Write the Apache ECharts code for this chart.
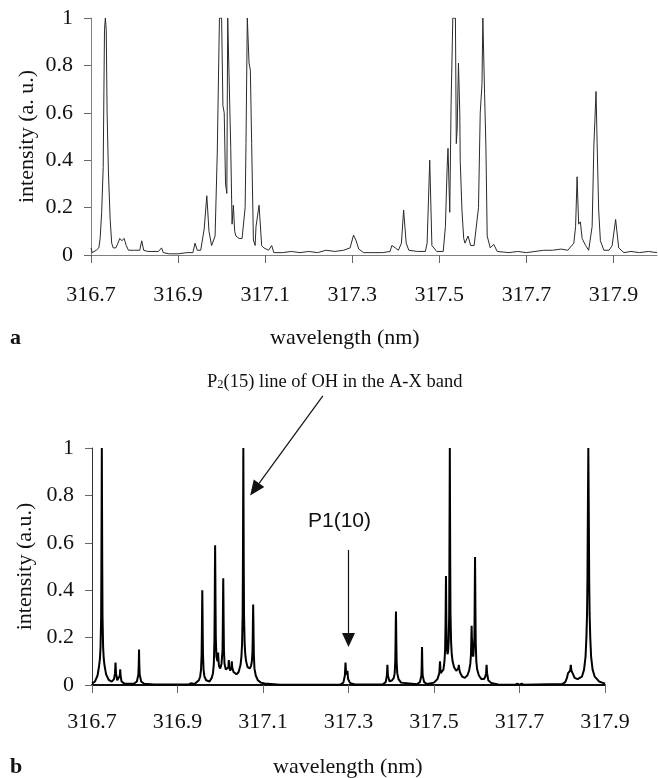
<!DOCTYPE html>
<html>
<head>
<meta charset="utf-8">
<script src="https://cdn.jsdelivr.net/npm/echarts@6/dist/echarts.min.js"></script>
<style>
  html, body { margin: 0; padding: 0; background: #fff; }
  #chart { width: 658px; height: 778px; }
</style>
</head>
<body>
<div id="chart"></div>
<script>
// wavelength axis (nm)
const wlMin = 316.7;
const wlStep = 0.2;
const wlMaxTop = 318.0;
const wlMaxBottom = 317.9;
const intensityTicks = [0, 0.2, 0.4, 0.6, 0.8, 1];

// panel a: measured spectrum [wavelength, intensity]
const topSpectrum = [
  [316.700,0.03],[316.703,0.01],[316.712,0.02],[316.718,0.03],[316.721,0.07],[316.7245,0.18],
  [316.728,0.37],[316.731,0.95],[316.733,1.0],[316.735,0.95],[316.737,0.6],[316.740,0.35],
  [316.744,0.15],[316.7475,0.05],[316.751,0.03],[316.757,0.03],[316.762,0.05],[316.766,0.07],
  [316.771,0.06],[316.776,0.07],[316.781,0.04],[316.786,0.02],[316.800,0.02],[316.812,0.02],
  [316.8165,0.06],[316.821,0.02],[316.830,0.015],[316.855,0.015],[316.862,0.03],[316.866,0.01],
  [316.880,0.005],[316.900,0.005],[316.920,0.01],[316.934,0.01],[316.939,0.05],[316.944,0.02],
  [316.952,0.02],[316.960,0.11],[316.966,0.25],[316.971,0.10],[316.977,0.04],[316.985,0.08],
  [316.990,0.43],[316.995,1.0],[317.000,1.0],[317.003,0.63],[317.006,0.6],[317.009,0.30],
  [317.012,0.26],[317.014,1.0],[317.018,1.0],[317.021,0.45],[317.024,0.13],[317.027,0.21],
  [317.030,0.10],[317.033,0.08],[317.040,0.07],[317.047,0.07],[317.054,0.2],[317.056,0.47],
  [317.059,1.0],[317.062,1.0],[317.063,0.81],[317.066,0.78],[317.069,0.47],[317.073,0.063],
  [317.077,0.04],[317.079,0.12],[317.086,0.21],[317.092,0.04],[317.097,0.03],[317.108,0.02],
  [317.115,0.04],[317.120,0.01],[317.140,0.01],[317.160,0.015],[317.180,0.01],[317.200,0.015],
  [317.220,0.01],[317.240,0.02],[317.260,0.015],[317.280,0.02],[317.295,0.03],[317.303,0.084],
  [317.309,0.06],[317.315,0.025],[317.326,0.01],[317.350,0.01],[317.370,0.01],[317.387,0.015],
  [317.391,0.04],[317.399,0.03],[317.406,0.02],[317.413,0.05],[317.418,0.19],[317.424,0.05],
  [317.430,0.02],[317.450,0.015],[317.468,0.015],[317.472,0.05],[317.478,0.40],[317.483,0.04],
  [317.494,0.015],[317.509,0.015],[317.514,0.12],[317.518,0.37],[317.520,0.45],[317.524,0.18],
  [317.527,0.63],[317.531,1.0],[317.537,1.0],[317.539,0.47],[317.541,0.53],[317.544,0.81],
  [317.547,0.6],[317.548,0.40],[317.552,0.19],[317.556,0.07],[317.559,0.05],[317.566,0.08],
  [317.572,0.04],[317.580,0.04],[317.590,0.2],[317.594,0.6],[317.598,0.72],[317.600,1.0],
  [317.603,1.0],[317.604,0.68],[317.607,0.46],[317.610,0.08],[317.617,0.03],[317.625,0.045],
  [317.633,0.015],[317.660,0.01],[317.680,0.015],[317.700,0.01],[317.720,0.015],[317.740,0.02],
  [317.760,0.02],[317.780,0.025],[317.795,0.02],[317.809,0.05],[317.813,0.12],[317.8165,0.33],
  [317.820,0.13],[317.824,0.14],[317.828,0.07],[317.836,0.04],[317.843,0.02],[317.851,0.12],
  [317.855,0.46],[317.860,0.69],[317.8625,0.47],[317.866,0.19],[317.870,0.06],[317.878,0.02],
  [317.890,0.02],[317.897,0.04],[317.905,0.15],[317.912,0.03],[317.924,0.01],[317.940,0.015],
  [317.960,0.01],[317.980,0.015],[318.000,0.01]
];

// panel b: simulated spectrum [wavelength, intensity]
const bottomSpectrum = [
  [316.700,0.006],[316.707,0.015],[316.713,0.04],[316.7165,0.08],[316.7185,0.11],[316.720,0.16],
  [316.7214,0.29],[316.722,0.5],[316.7225,0.75],[316.723,1.0],[316.7235,0.75],[316.724,0.5],
  [316.7246,0.29],[316.726,0.16],[316.7275,0.11],[316.7295,0.08],[316.733,0.045],[316.739,0.022],
  [316.746,0.014],
  [316.7515,0.025],[316.7538,0.05],[316.755,0.095],[316.7562,0.05],[316.759,0.02],[316.7635,0.025],
  [316.7652,0.04],[316.766,0.066],[316.7668,0.04],[316.769,0.015],[316.776,0.006],
  [316.798,0.005],[316.805,0.015],[316.8085,0.045],[316.8094,0.09],[316.810,0.15],[316.8106,0.09],
  [316.8115,0.045],[316.815,0.015],[316.822,0.005],
  [316.845,0.002],[316.848,0.006],[316.851,0.002],[316.926,0.002],[316.931,0.007],[316.932,0.015],
  [316.933,0.007],[316.940,0.004],
  [316.950,0.02],[316.953,0.036],[316.955,0.064],[316.9564,0.13],[316.957,0.22],[316.9575,0.32],
  [316.958,0.40],[316.9585,0.32],[316.959,0.22],[316.9596,0.13],[316.961,0.064],[316.963,0.036],
  [316.967,0.02],
  [316.975,0.015],[316.980,0.03],[316.983,0.05],[316.985,0.09],[316.9864,0.19],[316.987,0.32],
  [316.9875,0.47],[316.988,0.59],[316.9885,0.47],[316.989,0.33],[316.9896,0.2],[316.991,0.12],
  [316.9935,0.1],[316.9945,0.12],[316.995,0.137],[316.9956,0.11],[316.997,0.08],
  [317.000,0.07],[317.003,0.09],[317.0054,0.15],[317.006,0.25],[317.0065,0.36],[317.007,0.45],
  [317.0075,0.36],[317.008,0.25],[317.0086,0.15],[317.010,0.09],[317.013,0.065],
  [317.017,0.06],[317.019,0.075],[317.020,0.105],[317.021,0.075],[317.0235,0.06],[317.026,0.075],
  [317.027,0.10],[317.028,0.075],[317.031,0.055],[317.033,0.055],[317.034,0.063],[317.035,0.05],
  [317.038,0.045],[317.043,0.055],[317.0475,0.085],[317.0495,0.12],[317.051,0.17],[317.0524,0.3],
  [317.053,0.5],[317.0535,0.75],[317.054,1.0],[317.0545,0.75],[317.055,0.5],[317.0556,0.3],
  [317.057,0.18],[317.0585,0.13],[317.0605,0.1],[317.064,0.075],
  [317.069,0.07],[317.072,0.08],[317.074,0.1],[317.0754,0.14],[317.076,0.2],[317.0765,0.28],
  [317.077,0.34],[317.0775,0.28],[317.078,0.2],[317.0786,0.13],[317.080,0.07],[317.083,0.04],
  [317.088,0.02],[317.095,0.01],
  [317.104,0.006],[317.108,0.002],[317.140,0.001],
  [317.280,0.001],[317.288,0.01],[317.2915,0.04],[317.293,0.095],[317.2945,0.045],[317.296,0.04],
  [317.2975,0.06],[317.299,0.025],[317.304,0.008],[317.315,0.002],
  [317.380,0.002],[317.387,0.012],[317.3898,0.04],[317.391,0.085],[317.3922,0.04],[317.396,0.015],
  [317.402,0.02],[317.406,0.03],[317.408,0.05],[317.4094,0.1],[317.410,0.17],[317.4105,0.25],
  [317.411,0.31],[317.4115,0.25],[317.412,0.17],[317.4126,0.1],[317.414,0.05],[317.417,0.025],
  [317.423,0.01],
  [317.460,0.003],[317.467,0.012],[317.4705,0.04],[317.4712,0.08],[317.472,0.16],[317.4728,0.08],
  [317.4735,0.04],[317.477,0.012],[317.484,0.004],
  [317.500,0.01],[317.508,0.025],[317.5125,0.05],[317.514,0.10],[317.5155,0.05],[317.519,0.05],
  [317.522,0.065],[317.5245,0.1],[317.526,0.15],[317.527,0.26],[317.5275,0.36],[317.528,0.46],
  [317.5285,0.36],[317.529,0.26],[317.530,0.16],[317.5315,0.13],[317.533,0.14],[317.5345,0.19],
  [317.5355,0.3],[317.536,0.5],[317.5365,0.75],[317.537,1.0],[317.5375,0.75],[317.538,0.5],
  [317.5386,0.3],[317.540,0.18],[317.5415,0.13],[317.5435,0.1],[317.547,0.075],
  [317.552,0.06],[317.556,0.06],[317.557,0.07],[317.558,0.085],[317.559,0.07],[317.5605,0.055],
  [317.562,0.06],[317.563,0.045],[317.566,0.035],
  [317.572,0.03],[317.578,0.04],[317.582,0.06],[317.585,0.09],[317.5865,0.13],[317.5874,0.2],
  [317.588,0.25],[317.5886,0.2],[317.590,0.13],[317.592,0.12],[317.5945,0.2],[317.595,0.3],
  [317.5955,0.43],[317.596,0.54],[317.5965,0.43],[317.597,0.3],[317.5976,0.18],[317.599,0.1],
  [317.601,0.065],[317.605,0.04],[317.611,0.025],
  [317.617,0.025],[317.620,0.035],[317.6218,0.05],[317.623,0.085],[317.6242,0.05],[317.627,0.02],
  [317.634,0.008],[317.650,0.002],
  [317.690,0.001],[317.695,0.006],[317.700,0.001],[317.705,0.006],[317.710,0.001],
  [317.800,0.004],[317.807,0.012],[317.811,0.03],[317.8135,0.05],[317.8155,0.045],[317.8185,0.06],
  [317.820,0.085],[317.8215,0.06],[317.823,0.06],[317.824,0.065],[317.8255,0.045],[317.829,0.03],
  [317.836,0.025],
  [317.846,0.035],[317.851,0.065],[317.8545,0.12],[317.8565,0.2],[317.858,0.3],[317.859,0.45],
  [317.860,0.75],[317.861,1.0],[317.862,0.75],[317.863,0.45],[317.864,0.3],[317.8655,0.2],
  [317.8675,0.12],[317.871,0.065],[317.876,0.035],[317.886,0.015],[317.900,0.006]
];

// annotation arrows in panel b data units
const p2Arrow = { from: [317.24, 1.22], to: [317.07, 0.80] };
const p1Arrow = { from: [317.30, 0.57], to: [317.30, 0.16] };

const serif = '"Liberation Serif", "Times New Roman", serif';
const sans = '"Liberation Sans", Arial, sans-serif';

const fmtY = (v) => {
  if (Math.abs(v) < 1e-9) return '0';
  if (Math.abs(v - 1) < 1e-9) return '1';
  return v.toFixed(1);
};

function xAxisOpt(grid, max, lineColor, lineWidth, margin) {
  return {
    gridIndex: grid,
    type: 'value',
    min: wlMin,
    max: max,
    interval: wlStep,
    axisLine: { show: true, onZero: false, lineStyle: { color: lineColor, width: lineWidth } },
    axisTick: { show: true, length: 8, lineStyle: { color: '#666', width: 1 } },
    axisLabel: {
      margin: margin,
      fontFamily: serif,
      fontSize: 22,
      color: '#111',
      showMaxLabel: max === wlMaxBottom,
      formatter: (v) => v.toFixed(1)
    },
    splitLine: { show: false }
  };
}

function yAxisOpt(grid, name, lineColor, gap) {
  return {
    gridIndex: grid,
    type: 'value',
    min: intensityTicks[0],
    max: intensityTicks[intensityTicks.length - 1],
    interval: intensityTicks[1] - intensityTicks[0],
    name: name,
    nameLocation: 'middle',
    nameGap: gap,
    nameMoveOverlap: false,
    nameTextStyle: { fontFamily: serif, fontSize: 22, color: '#111' },
    axisLine: { show: true, lineStyle: { color: lineColor, width: 1 } },
    axisTick: { show: true, length: 7, lineStyle: { color: '#666', width: 1 } },
    axisLabel: { margin: 18, fontFamily: serif, fontSize: 22, color: '#111', formatter: fmtY },
    splitLine: { show: false }
  };
}

const chart = echarts.init(document.getElementById('chart'));

chart.setOption({
  animation: false,
  backgroundColor: '#fff',
  grid: [
    { left: 91, top: 18, width: 566, height: 237 },
    { left: 92, top: 448, width: 513, height: 237 }
  ],
  xAxis: [
    xAxisOpt(0, wlMaxTop, '#808080', 1, 29),
    xAxisOpt(1, wlMaxBottom, '#111', 2, 26)
  ],
  yAxis: [
    yAxisOpt(0, 'intensity (a. u.)', '#808080', 53),
    yAxisOpt(1, 'intensity (a.u.)', '#333', 56)
  ],
  series: [
    {
      type: 'line',
      xAxisIndex: 0,
      yAxisIndex: 0,
      data: topSpectrum,
      showSymbol: false,
      lineStyle: { color: '#2a2a2a', width: 1 }
    },
    {
      type: 'line',
      xAxisIndex: 1,
      yAxisIndex: 1,
      data: bottomSpectrum,
      showSymbol: false,
      lineStyle: { color: '#000', width: 2 }
    }
  ]
});

function arrow(spec, headLen, headHalf) {
  const a = chart.convertToPixel({ gridIndex: 1 }, spec.from);
  const b = chart.convertToPixel({ gridIndex: 1 }, spec.to);
  const dx = b[0] - a[0], dy = b[1] - a[1];
  const len = Math.hypot(dx, dy);
  const ux = dx / len, uy = dy / len;
  const bx = b[0] - ux * headLen, by = b[1] - uy * headLen;
  return [
    { type: 'line', shape: { x1: a[0], y1: a[1], x2: bx, y2: by }, style: { stroke: '#111', lineWidth: 1.2 } },
    {
      type: 'polygon',
      shape: { points: [[b[0], b[1]], [bx - uy * headHalf, by + ux * headHalf], [bx + uy * headHalf, by - ux * headHalf]] },
      style: { fill: '#111' }
    }
  ];
}

function label(text, x, y, font, rich) {
  return {
    type: 'text',
    x: x,
    y: y,
    style: { text: text, font: font, fill: '#111', align: 'left', verticalAlign: 'middle', rich: rich }
  };
}

chart.setOption({
  graphic: [
    label('a', 10, 338, 'bold 22px ' + serif),
    label('wavelength (nm)', 270, 338, '22px ' + serif),
    label('b', 10, 767, 'bold 22px ' + serif),
    label('wavelength (nm)', 273, 767, '22px ' + serif),
    label('{m|P}{s|2}{m|(15) line of OH in the A-X band}', 207, 382, '18.5px ' + serif, {
      m: { fontFamily: serif, fontSize: 18.5, color: '#111', lineHeight: 18 },
      s: { fontFamily: serif, fontSize: 12.5, color: '#111', lineHeight: 18, verticalAlign: 'bottom', padding: [6, 0, 0, 0] }
    }),
    label('P1(10)', 308, 521, '21px ' + sans),
    ...arrow(p2Arrow, 15, 6.5),
    ...arrow(p1Arrow, 14, 6.5)
  ]
});
</script>
</body>
</html>
